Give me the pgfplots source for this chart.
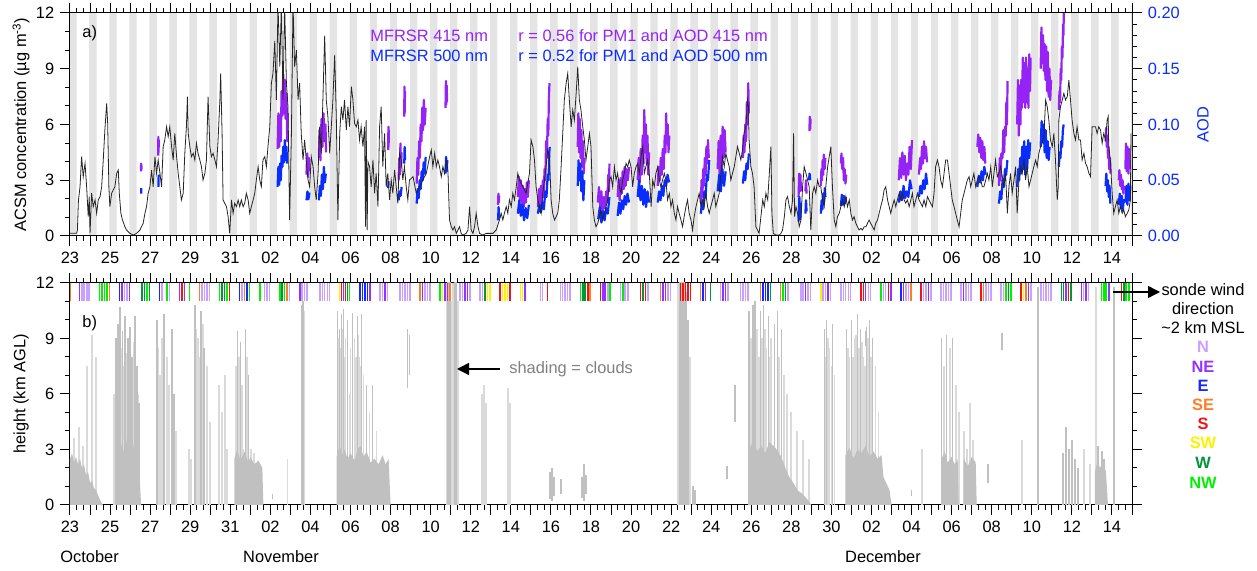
\documentclass[border=0pt]{standalone}
\usepackage{fontspec}
\setmainfont{Liberation Sans}
\usepackage{pgfplots}
\pgfplotsset{compat=1.18}
\usetikzlibrary{arrows.meta}
\definecolor{cP}{RGB}{150,35,245}
\definecolor{cB}{RGB}{10,45,255}
\definecolor{cN}{RGB}{200,160,255}
\definecolor{cNE}{RGB}{150,50,255}
\definecolor{cE}{RGB}{20,40,255}
\definecolor{cSE}{RGB}{255,125,40}
\definecolor{cS}{RGB}{240,20,20}
\definecolor{cSW}{RGB}{255,240,0}
\definecolor{cW}{RGB}{0,150,60}
\definecolor{cNW}{RGB}{0,240,0}
\definecolor{band}{RGB}{228,228,228}
\definecolor{cloud}{RGB}{192,192,192}
\definecolor{cloudl}{RGB}{218,218,218}
\definecolor{txtgray}{RGB}{128,128,128}
\pgfplotsset{
 base/.style={scale only axis, width=531pt, xmin=0, xmax=53, anchor=origin,
   tick align=outside, major tick length=5pt, minor tick length=2.5pt,
   tick style={black, line width=0.5pt}, axis line style={line width=0.5pt},
   xtick={0,...,53}, minor x tick num=2,
   xticklabels={23,,25,,27,,29,,31,,02,,04,,06,,08,,10,,12,,14,,16,,18,,20,,22,,24,,26,,28,,30,,02,,04,,06,,08,,10,,12,,14,,},
   /pgf/number format/assume math mode=true,
   unbounded coords=jump},
 wind/.style={only marks, mark=|, mark size=4.625pt, mark options={line width=0.75pt, #1}},
}
\begin{document}
\fontsize{8.2}{9.8}\selectfont
\begin{tikzpicture}[x=1pt,y=1pt]
% ---------------- top panel, AOD axis (right) ----------------
\begin{axis}[base, at={(35pt,167.5pt)}, height=111.5pt,
  ymin=0, ymax=0.2, hide x axis, axis y line*=right,
  ytick={0,0.05,0.10,0.15,0.20}, minor y tick num=4, scaled y ticks=false,
  yticklabel style={cB, /pgf/number format/.cd, fixed, fixed zerofill, precision=2},
  ylabel={AOD}, every axis y label/.style={at={(axis description cs:1.0669,0.5)}, rotate=90, anchor=center, cB}]
\addplot[const plot, fill=band, draw=none] coordinates {
(0,0.2)(0.33,0)(0.96,0.2)(1.33,0)(1.96,0.2)(2.33,0)(2.96,0.2)(3.33,0)(3.96,0.2)(4.33,0)
(4.96,0.2)(5.33,0)(5.96,0.2)(6.33,0)(6.96,0.2)(7.33,0)(7.96,0.2)(8.33,0)(8.96,0.2)(9.33,0)
(9.96,0.2)(10.33,0)(10.96,0.2)(11.33,0)(11.96,0.2)(12.33,0)(12.96,0.2)(13.33,0)(13.96,0.2)(14.33,0)
(14.96,0.2)(15.33,0)(15.96,0.2)(16.33,0)(16.96,0.2)(17.33,0)(17.96,0.2)(18.33,0)(18.96,0.2)(19.33,0)
(19.96,0.2)(20.33,0)(20.96,0.2)(21.33,0)(21.96,0.2)(22.33,0)(22.96,0.2)(23.33,0)(23.96,0.2)(24.33,0)
(24.96,0.2)(25.33,0)(25.96,0.2)(26.33,0)(26.96,0.2)(27.33,0)(27.96,0.2)(28.33,0)(28.96,0.2)(29.33,0)
(29.96,0.2)(30.33,0)(30.96,0.2)(31.33,0)(31.96,0.2)(32.33,0)(32.96,0.2)(33.33,0)(33.96,0.2)(34.33,0)
(34.96,0.2)(35.33,0)(35.96,0.2)(36.33,0)(36.96,0.2)(37.33,0)(37.96,0.2)(38.33,0)(38.96,0.2)(39.33,0)
(39.96,0.2)(40.33,0)(40.96,0.2)(41.33,0)(41.96,0.2)(42.33,0)(42.96,0.2)(43.33,0)(43.96,0.2)(44.33,0)
(44.96,0.2)(45.33,0)(45.96,0.2)(46.33,0)(46.96,0.2)(47.33,0)(47.96,0.2)(48.33,0)(48.96,0.2)(49.33,0)
(49.96,0.2)(50.33,0)(50.96,0.2)(51.33,0)(51.96,0.2)(52.33,0)(52.96,0.2)(53,0)} \closedcycle;
% AOD 415 nm
\addplot[cP, line width=1.1pt, line join=round] coordinates {
(3.54,0.058)(3.55,0.065)(3.56,0.059)(3.57,0.063)(3.57,nan)
(4.40,0.072)(4.41,0.089)(4.42,0.075)(4.43,0.086)(4.43,nan)
(10.36,0.078)(10.40,0.11)(10.44,0.08)(10.48,0.108)(10.52,0.085)(10.56,0.13)(10.60,0.108)(10.64,0.145)(10.68,0.11)(10.72,0.14)(10.76,0.105)(10.80,0.128)(10.84,0.085)(10.86,0.11)(10.86,nan)
(11.80,0.055)(11.84,0.074)(11.88,0.053)(11.92,0.07)(11.95,0.058)(11.95,nan)
(12.42,0.07)(12.45,0.095)(12.50,0.068)(12.55,0.105)(12.60,0.08)(12.65,0.11)(12.70,0.085)(12.75,0.10)(12.78,0.075)(12.78,nan)
(15.88,0.077)(15.89,0.098)(15.90,0.08)(15.91,0.095)(15.91,nan)
(16.40,0.05)(16.43,0.07)(16.46,0.055)(16.49,0.083)(16.52,0.062)(16.55,0.075)(16.55,nan)
(16.68,0.107)(16.69,0.134)(16.70,0.110)(16.72,0.13)(16.72,nan)
(17.30,0.047)(17.34,0.07)(17.38,0.055)(17.42,0.085)(17.46,0.07)(17.50,0.10)(17.54,0.085)(17.58,0.115)(17.62,0.095)(17.66,0.122)(17.70,0.10)(17.75,0.115)(17.75,nan)
(18.74,0.115)(18.76,0.139)(18.78,0.118)(18.80,0.135)(18.82,0.12)(18.82,nan)
(21.36,0.028)(21.38,0.038)(21.40,0.030)(21.42,0.036)(21.42,nan)
(22.35,0.035)(22.40,0.053)(22.45,0.032)(22.50,0.05)(22.55,0.028)(22.60,0.045)(22.65,0.026)(22.70,0.042)(22.75,0.03)(22.80,0.048)(22.85,0.035)(22.90,0.05)(22.90,nan)
(23.35,0.026)(23.40,0.042)(23.45,0.028)(23.50,0.045)(23.55,0.03)(23.60,0.05)(23.65,0.035)(23.68,0.06)(23.72,0.05)(23.76,0.085)(23.80,0.07)(23.84,0.105)(23.87,0.09)(23.90,0.125)(23.93,0.137)(23.93,nan)
(25.34,0.08)(25.37,0.11)(25.40,0.075)(25.44,0.105)(25.48,0.07)(25.52,0.095)(25.56,0.062)(25.60,0.085)(25.64,0.056)(25.67,0.07)(25.67,nan)
(26.34,0.03)(26.40,0.044)(26.46,0.025)(26.52,0.04)(26.58,0.02)(26.64,0.035)(26.70,0.025)(26.76,0.04)(26.82,0.03)(26.86,0.055)(26.90,0.04)(26.92,0.065)(26.92,nan)
(27.33,0.035)(27.38,0.05)(27.43,0.032)(27.48,0.052)(27.53,0.038)(27.58,0.058)(27.63,0.042)(27.68,0.062)(27.73,0.045)(27.78,0.06)(27.84,0.05)(27.90,0.062)(27.90,nan)
(28.33,0.05)(28.38,0.07)(28.43,0.048)(28.48,0.078)(28.53,0.055)(28.58,0.09)(28.62,0.065)(28.66,0.113)(28.70,0.075)(28.74,0.10)(28.78,0.065)(28.82,0.09)(28.86,0.055)(28.90,0.075)(28.90,nan)
(29.33,0.045)(29.38,0.062)(29.43,0.05)(29.48,0.07)(29.53,0.055)(29.58,0.078)(29.63,0.06)(29.68,0.09)(29.72,0.075)(29.75,0.11)(29.79,0.085)(29.83,0.1)(29.87,0.075)(29.91,0.09)(29.91,nan)
(31.48,0.03)(31.52,0.05)(31.56,0.035)(31.60,0.06)(31.64,0.045)(31.68,0.07)(31.72,0.055)(31.76,0.08)(31.80,0.065)(31.84,0.086)(31.88,0.07)(31.88,nan)
(32.32,0.06)(32.37,0.085)(32.42,0.055)(32.47,0.09)(32.52,0.06)(32.57,0.098)(32.62,0.07)(32.67,0.095)(32.72,0.075)(32.72,nan)
(33.58,0.07)(33.62,0.09)(33.66,0.075)(33.70,0.1)(33.74,0.085)(33.78,0.12)(33.82,0.1)(33.85,0.137)(33.88,0.11)(33.88,nan)
(36.36,0.035)(36.39,0.056)(36.42,0.04)(36.45,0.055)(36.48,0.04)(36.48,nan)
(36.70,0.04)(36.73,0.05)(36.76,0.038)(36.76,nan)
(36.90,0.094)(36.92,0.107)(36.94,0.096)(36.96,0.105)(36.96,nan)
(37.47,0.045)(37.50,0.06)(37.53,0.05)(37.56,0.068)(37.59,0.055)(37.62,0.073)(37.66,0.06)(37.70,0.07)(37.70,nan)
(38.47,0.065)(38.50,0.074)(38.54,0.06)(38.58,0.07)(38.62,0.05)(38.66,0.06)(38.70,0.047)(38.74,0.055)(38.74,nan)
(41.36,0.05)(41.42,0.07)(41.48,0.052)(41.54,0.075)(41.60,0.055)(41.66,0.072)(41.72,0.05)(41.78,0.065)(41.84,0.055)(41.90,0.08)(41.96,0.06)(42.02,0.086)(42.02,nan)
(42.37,0.055)(42.42,0.07)(42.47,0.06)(42.52,0.08)(42.57,0.065)(42.62,0.085)(42.67,0.07)(42.72,0.08)(42.77,0.066)(42.77,nan)
(45.28,0.08)(45.33,0.091)(45.38,0.075)(45.43,0.088)(45.48,0.07)(45.53,0.085)(45.58,0.068)(45.63,0.08)(45.68,0.065)(45.68,nan)
(46.36,0.045)(46.40,0.07)(46.44,0.05)(46.48,0.074)(46.54,0.07)(46.58,0.095)(46.62,0.075)(46.66,0.098)(46.70,0.09)(46.73,0.12)(46.76,0.1)(46.79,0.139)(46.79,nan)
(47.27,0.10)(47.31,0.14)(47.35,0.09)(47.39,0.135)(47.43,0.1)(47.47,0.14)(47.51,0.115)(47.55,0.16)(47.59,0.12)(47.63,0.155)(47.67,0.115)(47.71,0.16)(47.75,0.12)(47.79,0.15)(47.83,0.115)(47.87,0.163)(47.91,0.13)(47.94,0.16)(47.94,nan)
(48.44,0.15)(48.48,0.187)(48.52,0.155)(48.56,0.18)(48.60,0.148)(48.64,0.172)(48.68,0.14)(48.72,0.17)(48.76,0.13)(48.80,0.165)(48.84,0.125)(48.88,0.15)(48.92,0.122)(48.96,0.14)(48.96,nan)
(49.35,0.113)(49.38,0.13)(49.41,0.12)(49.44,0.15)(49.47,0.14)(49.50,0.17)(49.53,0.16)(49.56,0.19)(49.58,0.18)(49.60,0.205)(49.60,nan)
(51.68,0.085)(51.71,0.097)(51.74,0.08)(51.77,0.09)(51.80,0.07)(51.83,0.08)(51.86,0.06)(51.90,0.07)(51.93,0.056)(51.93,nan)
(52.34,0.05)(52.37,0.059)(52.41,0.045)(52.45,0.055)(52.49,0.042)(52.53,0.05)(52.57,0.038)(52.60,0.045)(52.60,nan)
(52.67,0.06)(52.70,0.083)(52.74,0.058)(52.78,0.08)(52.82,0.056)(52.86,0.078)(52.90,0.06)};
% AOD 500 nm
\addplot[cB, line width=1.1pt, line join=round] coordinates {
(3.55,0.038)(3.56,0.041)(3.56,0.043)(3.56,nan)
(4.41,0.044)(4.42,0.048)(4.42,0.052)(4.43,0.055)(4.43,nan)
(10.36,0.044)(10.40,0.062)(10.44,0.046)(10.48,0.065)(10.52,0.05)(10.56,0.072)(10.60,0.062)(10.64,0.08)(10.68,0.066)(10.72,0.086)(10.76,0.068)(10.80,0.08)(10.84,0.065)(10.84,nan)
(11.80,0.032)(11.85,0.040)(11.90,0.033)(11.95,0.039)(11.95,nan)
(12.42,0.032)(12.47,0.045)(12.52,0.036)(12.57,0.055)(12.62,0.042)(12.67,0.062)(12.72,0.048)(12.77,0.056)(12.77,nan)
(15.88,0.043)(15.90,0.049)(15.90,nan)
(16.40,0.032)(16.45,0.040)(16.50,0.036)(16.55,0.044)(16.55,nan)
(16.68,0.065)(16.70,0.080)(16.72,0.068)(16.72,nan)
(17.30,0.029)(17.35,0.042)(17.40,0.034)(17.45,0.05)(17.50,0.042)(17.55,0.058)(17.60,0.05)(17.65,0.066)(17.70,0.056)(17.75,0.071)(17.75,nan)
(18.74,0.056)(18.77,0.071)(18.80,0.058)(18.83,0.068)(18.83,nan)
(21.36,0.014)(21.39,0.026)(21.42,0.016)(21.42,nan)
(22.35,0.02)(22.42,0.032)(22.50,0.018)(22.58,0.028)(22.66,0.014)(22.74,0.025)(22.82,0.016)(22.90,0.028)(22.90,nan)
(23.35,0.02)(23.42,0.028)(23.50,0.021)(23.58,0.03)(23.65,0.024)(23.72,0.04)(23.78,0.035)(23.84,0.055)(23.88,0.05)(23.92,0.075)(23.94,0.08)(23.94,nan)
(25.34,0.045)(25.38,0.068)(25.42,0.05)(25.47,0.065)(25.52,0.04)(25.57,0.058)(25.62,0.032)(25.67,0.05)(25.67,nan)
(26.36,0.015)(26.44,0.026)(26.52,0.012)(26.60,0.022)(26.68,0.014)(26.76,0.025)(26.84,0.02)(26.92,0.035)(26.92,nan)
(27.33,0.018)(27.40,0.03)(27.47,0.02)(27.54,0.032)(27.61,0.024)(27.68,0.036)(27.75,0.028)(27.82,0.038)(27.90,0.03)(27.90,nan)
(28.33,0.035)(28.40,0.05)(28.47,0.032)(28.54,0.045)(28.61,0.028)(28.68,0.042)(28.75,0.026)(28.82,0.04)(28.90,0.03)(28.90,nan)
(29.33,0.03)(29.40,0.04)(29.47,0.032)(29.54,0.045)(29.61,0.036)(29.68,0.05)(29.75,0.045)(29.82,0.055)(29.90,0.048)(29.90,nan)
(31.48,0.02)(31.54,0.03)(31.60,0.024)(31.66,0.04)(31.72,0.035)(31.78,0.055)(31.84,0.05)(31.90,0.068)(31.90,nan)
(32.32,0.04)(32.40,0.055)(32.48,0.04)(32.56,0.06)(32.64,0.045)(32.72,0.058)(32.72,nan)
(33.58,0.047)(33.64,0.058)(33.70,0.05)(33.76,0.065)(33.82,0.06)(33.88,0.074)(33.88,nan)
(36.36,0.013)(36.40,0.035)(36.44,0.015)(36.48,0.03)(36.48,nan)
(36.70,0.02)(36.73,0.032)(36.76,0.022)(36.76,nan)
(36.88,0.05)(36.91,0.056)(36.94,0.05)(36.94,nan)
(37.47,0.02)(37.51,0.032)(37.55,0.024)(37.59,0.038)(37.63,0.03)(37.67,0.043)(37.70,0.035)(37.70,nan)
(38.47,0.027)(38.52,0.037)(38.57,0.028)(38.62,0.036)(38.67,0.029)(38.72,0.035)(38.72,nan)
(41.36,0.03)(41.44,0.04)(41.52,0.032)(41.60,0.045)(41.68,0.034)(41.76,0.04)(41.84,0.035)(41.92,0.05)(42.00,0.042)(42.00,nan)
(42.37,0.035)(42.44,0.045)(42.51,0.038)(42.58,0.05)(42.65,0.042)(42.72,0.056)(42.78,0.046)(42.78,nan)
(45.28,0.044)(45.35,0.054)(45.42,0.048)(45.49,0.058)(45.56,0.05)(45.63,0.062)(45.70,0.055)(45.70,nan)
(46.36,0.029)(46.42,0.04)(46.48,0.033)(46.54,0.05)(46.60,0.044)(46.66,0.06)(46.72,0.055)(46.78,0.068)(46.78,nan)
(47.27,0.044)(47.32,0.06)(47.37,0.05)(47.42,0.07)(47.47,0.056)(47.52,0.08)(47.57,0.06)(47.62,0.085)(47.67,0.055)(47.72,0.08)(47.77,0.06)(47.82,0.086)(47.87,0.07)(47.92,0.084)(47.92,nan)
(48.44,0.08)(48.49,0.103)(48.54,0.085)(48.59,0.1)(48.64,0.075)(48.69,0.095)(48.74,0.07)(48.79,0.085)(48.84,0.068)(48.89,0.08)(48.89,nan)
(49.35,0.062)(49.39,0.075)(49.43,0.07)(49.47,0.085)(49.51,0.08)(49.55,0.095)(49.59,0.1)(49.59,nan)
(51.68,0.045)(51.72,0.056)(51.76,0.04)(51.80,0.05)(51.84,0.035)(51.88,0.045)(51.92,0.029)(51.92,nan)
(52.34,0.028)(52.39,0.038)(52.44,0.025)(52.49,0.036)(52.54,0.023)(52.59,0.033)(52.59,nan)
(52.67,0.03)(52.72,0.045)(52.77,0.028)(52.82,0.047)(52.87,0.032)(52.92,0.045)};
\end{axis}
% ---------------- top panel, ACSM axis (left) ----------------
\begin{axis}[base, at={(35pt,167.5pt)}, height=111.5pt,
  ymin=0, ymax=12, axis y line*=left, ytick={0,3,...,12}, minor y tick num=2,
  ylabel={ACSM concentration (µg m\textsuperscript{-3})},
  every axis y label/.style={at={(axis description cs:-0.0461,0.5)}, rotate=90, anchor=center}]
\addplot[black!85, line width=0.4pt] table {
0.00 0.15
0.17 0.15
0.33 0.15
0.37 0.32
0.42 1.90
0.50 2.65
0.58 4.27
0.66 3.19
0.75 3.91
0.83 2.65
0.91 1.04
0.96 2.12
1.00 0.14
1.08 2.30
1.16 1.58
1.25 1.94
1.33 1.22
1.41 1.94
1.50 2.12
1.58 2.65
1.66 4.09
1.74 5.70
1.83 7.14
1.88 6.06
1.94 2.65
1.99 1.58
2.08 2.30
2.16 2.48
2.24 2.65
2.33 3.37
2.41 3.55
2.46 2.30
2.54 1.22
2.62 0.86
2.74 0.50
2.82 0.32
2.99 0.14
3.16 0.05
3.32 0.14
3.49 0.32
3.57 0.50
3.65 0.68
3.74 1.22
3.82 1.58
3.90 2.30
3.99 2.65
4.07 3.55
4.15 2.65
4.24 4.27
4.32 3.37
4.40 4.09
4.49 3.37
4.57 2.65
4.65 4.81
4.73 5.17
4.82 5.88
4.90 5.35
4.98 5.88
5.07 4.81
5.15 4.09
5.23 5.52
5.32 4.27
5.40 3.37
5.48 2.65
5.56 1.94
5.65 2.30
5.73 4.45
5.81 5.88
5.86 7.50
5.90 5.52
5.98 4.81
6.06 4.27
6.15 4.45
6.23 4.09
6.31 4.99
6.39 4.45
6.48 4.09
6.56 3.73
6.64 3.01
6.73 3.37
6.81 4.09
6.89 7.50
6.98 4.81
7.06 4.27
7.14 4.45
7.23 4.09
7.31 3.73
7.39 5.17
7.48 7.32
7.52 8.75
7.59 5.52
7.64 1.94
7.72 1.76
7.81 1.58
7.89 1.04
7.97 0.14
8.06 1.94
8.14 1.22
8.22 1.76
8.31 1.58
8.39 1.94
8.47 1.58
8.55 1.94
8.64 1.58
8.72 1.76
8.80 2.30
8.89 1.94
8.97 1.22
9.05 1.58
9.14 1.94
9.22 2.30
9.30 3.01
9.39 3.73
9.47 3.01
9.55 2.65
9.63 4.09
9.72 4.27
9.80 3.73
9.88 4.81
9.97 5.88
10.05 8.22
10.13 8.75
10.22 10.5
10.30 7.32
10.38 12.5
10.47 9.11
10.55 12.5
10.63 7.32
10.71 12.5
10.80 8.22
10.88 6.96
10.96 0.86
11.05 5.52
11.13 12.5
11.21 9.11
11.30 10.0
11.38 7.32
11.46 8.22
11.54 5.52
11.63 4.09
11.71 5.17
11.79 4.09
11.88 3.01
11.96 2.65
12.04 4.27
12.13 3.73
12.21 2.65
12.29 1.94
12.38 3.37
12.46 5.88
12.54 4.45
12.62 7.32
12.71 10.78
12.79 7.32
12.87 6.42
12.96 4.45
13.04 5.88
13.12 7.32
13.21 9.74
13.29 6.42
13.37 0.86
13.46 5.52
13.54 6.96
13.62 6.24
13.70 7.32
13.79 5.70
13.87 6.96
13.95 5.88
14.04 8.04
14.12 7.32
14.20 6.06
14.29 5.88
14.37 6.24
14.45 5.17
14.53 5.88
14.62 4.81
14.70 5.88
14.75 0.50
14.78 6.24
14.83 0.32
14.87 4.00
14.95 3.73
15.03 2.65
15.12 4.09
15.20 2.30
15.28 3.37
15.37 1.58
15.45 5.88
15.53 6.96
15.61 3.73
15.70 5.52
15.78 2.65
15.86 3.37
15.95 1.94
16.03 3.01
16.11 2.30
16.20 3.55
16.28 2.65
16.36 1.76
16.45 4.45
16.53 4.09
16.61 3.01
16.69 3.73
16.78 2.65
16.86 1.94
16.94 3.01
17.12 3.19
17.28 2.30
17.45 2.65
17.61 3.01
17.78 3.37
17.95 4.27
18.03 4.63
18.11 3.73
18.20 4.45
18.28 3.73
18.36 4.09
18.44 3.73
18.53 3.19
18.61 3.73
18.69 3.37
18.78 4.09
18.86 3.55
18.94 0.86
19.03 0.50
19.11 0.32
19.19 0.50
19.28 0.14
19.36 0.32
19.44 0.50
19.52 0.14
19.61 0.05
19.77 0.14
19.86 0.32
19.94 1.58
20.02 0.32
20.11 0.14
20.19 0.50
20.27 1.22
20.36 0.50
20.44 0.14
20.60 0.05
20.77 0.14
21.10 0.14
21.27 0.32
21.43 0.86
21.52 1.22
21.60 0.86
21.68 1.22
21.77 1.58
21.85 1.22
21.93 1.94
22.02 1.58
22.10 2.30
22.18 1.94
22.27 2.65
22.35 3.37
22.43 3.01
22.60 2.65
22.76 2.30
22.93 3.37
23.01 5.17
23.10 4.81
23.18 4.09
23.26 2.65
23.35 1.94
23.43 1.58
23.51 1.22
23.59 2.30
23.68 3.01
23.76 3.73
23.84 4.63
23.93 4.27
24.01 1.94
24.09 1.22
24.18 0.86
24.26 1.04
24.34 1.22
24.42 1.94
24.51 3.73
24.59 5.52
24.67 7.32
24.76 8.22
24.84 8.75
24.92 7.32
25.01 5.88
25.09 6.78
25.17 6.24
25.26 7.68
25.34 9.11
25.42 7.32
25.50 6.78
25.59 5.88
25.67 5.17
25.75 4.09
25.84 4.81
25.92 5.52
26.00 4.81
26.09 1.58
26.17 0.86
26.25 0.50
26.34 0.68
26.42 1.04
26.50 1.40
26.58 0.86
26.67 1.22
26.75 1.58
26.83 1.94
26.92 3.01
27.00 3.19
27.08 2.65
27.17 3.73
27.25 3.01
27.33 3.37
27.42 2.65
27.50 2.30
27.58 3.01
27.66 3.37
27.75 3.91
27.83 3.73
27.91 4.09
28.00 3.73
28.08 2.65
28.16 3.37
28.25 3.73
28.33 3.91
28.41 3.37
28.50 4.27
28.58 4.81
28.66 3.37
28.74 3.73
28.83 4.09
28.91 3.37
29.00 1.58
29.08 3.01
29.16 2.65
29.24 3.37
29.33 3.73
29.41 3.01
29.49 2.65
29.57 3.01
29.66 3.37
29.74 3.01
29.82 1.94
29.91 2.30
29.99 1.58
30.07 1.94
30.16 1.22
30.24 0.86
30.32 1.58
30.40 1.22
30.49 0.86
30.57 0.50
30.65 1.04
30.74 1.58
30.82 1.94
30.90 1.22
30.99 0.86
31.07 0.32
31.15 1.04
31.24 1.58
31.32 1.94
31.40 2.30
31.49 1.58
31.57 1.94
31.65 1.58
31.73 2.30
31.82 1.58
31.90 1.22
31.98 1.58
32.07 1.94
32.15 2.30
32.23 1.58
32.32 1.94
32.40 2.30
32.48 3.37
32.56 4.27
32.65 3.73
32.73 4.45
32.81 4.09
32.90 3.73
32.98 3.01
33.06 3.37
33.15 3.73
33.23 4.27
33.31 4.81
33.40 4.45
33.48 4.09
33.56 4.63
33.64 5.52
33.73 5.88
33.81 7.32
33.86 6.96
33.89 5.17
33.98 3.73
34.06 3.37
34.14 2.65
34.23 0.50
34.31 0.32
34.39 0.14
34.57 1.94
34.65 1.58
34.73 2.30
34.82 1.94
34.90 3.37
34.98 4.81
35.03 1.22
35.10 0.14
35.23 0.05
35.40 0.05
35.48 0.14
35.56 0.32
35.65 1.04
35.73 1.94
35.81 2.12
35.90 1.58
35.98 1.22
36.06 1.94
36.11 5.52
36.16 1.04
36.23 1.58
36.31 1.22
36.39 0.50
36.48 0.86
36.56 2.65
36.64 3.73
36.73 3.37
36.81 3.01
36.89 2.65
36.97 0.32
37.06 2.30
37.14 2.65
37.22 2.30
37.31 3.01
37.39 2.65
37.47 2.65
37.56 1.94
37.64 1.58
37.72 2.65
37.81 3.73
37.89 4.27
37.97 4.81
38.05 2.65
38.14 0.86
38.22 0.50
38.30 1.04
38.39 1.22
38.47 1.58
38.55 1.94
38.64 1.58
38.72 2.12
38.80 1.58
38.89 1.94
38.97 1.22
39.05 0.86
39.13 1.04
39.22 0.68
39.30 0.50
39.38 0.32
39.47 0.41
39.55 0.32
39.63 0.50
39.72 0.50
39.80 0.68
39.88 0.86
39.96 0.68
40.05 0.50
40.13 0.32
40.21 0.68
40.30 0.86
40.38 1.22
40.46 1.58
40.55 1.94
40.63 2.48
40.71 2.65
40.80 1.94
40.88 1.58
40.96 1.22
41.04 1.58
41.13 1.94
41.21 1.58
41.29 1.94
41.38 2.30
41.46 1.94
41.54 2.30
41.63 1.94
41.71 1.76
41.79 1.94
41.88 1.58
41.96 1.94
42.04 2.30
42.12 1.58
42.21 1.94
42.29 2.30
42.37 1.94
42.46 1.76
42.54 1.58
42.62 1.94
42.71 1.58
42.79 2.12
42.87 1.94
42.95 1.76
43.04 1.58
43.12 2.30
43.20 3.73
43.29 4.09
43.37 3.73
43.45 3.01
43.54 2.65
43.62 3.37
43.70 4.09
43.79 4.09
43.87 3.37
43.95 2.65
44.03 1.94
44.12 1.58
44.20 1.22
44.28 0.86
44.37 0.50
44.45 1.22
44.53 1.94
44.62 2.30
44.70 2.65
44.78 3.01
44.87 3.19
44.95 2.65
45.03 3.01
45.11 3.37
45.20 2.65
45.28 3.01
45.36 3.19
45.45 3.01
45.53 2.65
45.61 2.65
45.70 3.01
45.78 3.37
45.86 3.01
45.95 3.73
46.03 2.65
46.11 3.37
46.19 4.09
46.28 3.19
46.36 3.37
46.44 3.73
46.53 3.19
46.61 2.65
46.69 3.37
46.78 1.22
46.86 2.65
46.94 3.37
47.02 2.30
47.11 3.01
47.19 3.73
47.27 1.22
47.36 3.01
47.44 3.73
47.52 3.37
47.61 4.09
47.69 3.01
47.77 3.73
47.86 2.65
47.94 3.01
48.02 3.37
48.10 3.73
48.19 4.09
48.27 3.73
48.35 4.45
48.44 4.81
48.52 4.99
48.60 5.35
48.69 7.32
48.77 6.96
48.85 6.24
48.93 5.17
49.02 4.81
49.10 5.52
49.18 4.09
49.27 1.94
49.32 2.65
49.35 6.24
49.43 6.96
49.52 7.32
49.60 7.68
49.68 7.32
49.77 7.50
49.85 8.39
49.93 7.32
50.01 6.24
50.10 5.52
50.18 5.17
50.26 5.88
50.35 5.17
50.43 5.17
50.51 4.09
50.60 4.45
50.68 3.91
50.76 3.73
50.85 3.37
50.93 3.19
51.01 5.88
51.09 5.88
51.18 5.88
51.26 5.52
51.34 5.88
51.43 5.70
51.51 4.99
51.59 5.52
51.68 5.17
51.76 6.24
51.81 6.42
51.84 4.81
51.92 4.09
52.01 2.30
52.09 1.22
52.17 1.58
52.26 1.94
52.34 1.22
52.42 1.58
52.51 1.22
52.59 1.40
52.67 1.04
52.76 1.22
52.84 1.40
52.92 1.94
52.95 5.52
};
\end{axis}
% ---------------- bottom panel ----------------
\begin{axis}[base, at={(35pt,33pt)}, height=111pt,
  ymin=0, ymax=12, ytick={0,3,...,12}, minor y tick num=2,
  xtick pos=both, ytick pos=both, xticklabel pos=lower, yticklabel pos=left,
  ylabel={height (km AGL)},
  every axis y label/.style={at={(axis description cs:-0.0461,0.5)}, rotate=90, anchor=center}]
% faint streaks
\addplot[cloudl, line width=0.9pt] coordinates {
(0.85,0)(0.85,7.5)(0.85,nan)(1.10,0)(1.10,9.2)(1.10,nan)(1.30,0)(1.30,8.0)(1.30,nan)
(0.20,0)(0.20,3.6)(0.20,nan)(0.45,0)(0.45,4.2)(0.45,nan)(0.65,0)(0.65,3.2)(0.65,nan)
(2.20,0)(2.20,6.0)(2.20,nan)(2.35,0)(2.35,8.0)(2.35,nan)(2.55,0)(2.55,8.5)(2.55,nan)(2.70,0)(2.70,7.5)(2.70,nan)
(2.85,0)(2.85,8.2)(2.85,nan)(3.05,0)(3.05,7.0)(3.05,nan)(3.20,0)(3.20,8.8)(3.20,nan)(3.40,0)(3.40,6.0)(3.40,nan)
(4.40,0)(4.40,8.5)(4.40,nan)(4.50,0)(4.50,7.0)(4.50,nan)(4.60,0)(4.60,9.0)(4.60,nan)(4.85,0)(4.85,8.0)(4.85,nan)
(4.95,0)(4.95,6.5)(4.95,nan)(5.30,0)(5.30,4.0)(5.30,nan)
(5.95,0)(5.95,3.0)(5.95,nan)(6.05,0)(6.05,2.5)(6.05,nan)(6.30,0)(6.30,9.5)(6.30,nan)(6.40,0)(6.40,9.0)(6.40,nan)
(6.48,0)(6.48,8.0)(6.48,nan)(6.62,0)(6.62,9.8)(6.62,nan)
(6.85,0)(6.85,7.5)(6.85,nan)(7.00,0)(7.00,4.5)(7.00,nan)(7.45,0)(7.45,6.5)(7.45,nan)
(7.60,0)(7.60,5.0)(7.60,nan)(7.75,0)(7.75,7.0)(7.75,nan)(7.85,0)(7.85,3.0)(7.85,nan)
(8.28,0)(8.28,7.5)(8.28,nan)(8.42,0)(8.42,8.0)(8.42,nan)(8.58,0)(8.58,6.5)(8.58,nan)(8.82,0)(8.82,8.0)(8.82,nan)
(8.65,0)(8.65,3.0)(8.65,nan)(9.05,0)(9.05,3.0)(9.05,nan)(9.20,0)(9.20,2.8)(9.20,nan)
(9.40,0)(9.40,2.0)(9.40,nan)(10.85,0)(10.85,2.5)(10.85,nan)(11.70,0)(11.70,10.5)(11.70,nan)
(13.40,0)(13.40,9.0)(13.40,nan)(13.50,0)(13.50,8.5)(13.50,nan)(13.60,0)(13.60,9.5)(13.60,nan)(13.70,0)(13.70,8.0)(13.70,nan)
(13.75,0)(13.75,9.0)(13.75,nan)(13.95,0)(13.95,6.0)(13.95,nan)(14.20,0)(14.20,9.0)(14.20,nan)(14.00,0)(14.00,8.5)(14.00,nan)
(14.28,0)(14.28,8.0)(14.28,nan)(14.40,0)(14.40,9.2)(14.40,nan)(14.50,0)(14.50,7.5)(14.50,nan)
(14.45,0)(14.45,8.0)(14.45,nan)(14.65,0)(14.65,7.0)(14.65,nan)(14.95,0)(14.95,5.0)(14.95,nan)
(15.30,0)(15.30,4.0)(15.30,nan)(18.80,0)(18.80,12)(18.80,nan)(19.00,0)(19.00,11)(19.00,nan)
(19.10,0)(19.10,12)(19.10,nan)(19.35,0)(19.35,11)(19.35,nan)(20.55,0)(20.55,6.0)(20.55,nan)
(20.65,0)(20.65,6.5)(20.65,nan)(20.75,0)(20.75,5.5)(20.75,nan)(21.85,0)(21.85,6.3)(21.85,nan)
(21.95,0)(21.95,5.5)(21.95,nan)(30.35,0)(30.35,12)(30.35,nan)(30.95,0)(30.95,8)(30.95,nan)
(34.00,0)(34.00,9.0)(34.00,nan)(34.30,0)(34.30,9.5)(34.30,nan)(34.75,0)(34.75,8.5)(34.75,nan)
(34.38,0)(34.38,8.0)(34.38,nan)(34.52,0)(34.52,9.0)(34.52,nan)(34.68,0)(34.68,9.5)(34.68,nan)(34.92,0)(34.92,8.0)(34.92,nan)
(35.00,0)(35.00,9.0)(35.00,nan)(35.40,0)(35.40,8.0)(35.40,nan)(35.65,0)(35.65,7.0)(35.65,nan)
(35.80,0)(35.80,6.0)(35.80,nan)(36.00,0)(36.00,5.0)(36.00,nan)(36.30,0)(36.30,4.0)(36.30,nan)
(36.60,0)(36.60,3.5)(36.60,nan)(36.90,0)(36.90,2.5)(36.90,nan)(37.90,0)(37.90,8.5)(37.90,nan)
(37.70,0)(37.70,8.0)(37.70,nan)(37.82,0)(37.82,9.0)(37.82,nan)(38.00,0)(38.00,7.5)(38.00,nan)
(38.15,0)(38.15,7.0)(38.15,nan)(38.90,0)(38.90,8.0)(38.90,nan)(39.15,0)(39.15,9.0)(39.15,nan)
(38.82,0)(38.82,8.5)(38.82,nan)(39.08,0)(39.08,8.0)(39.08,nan)(39.22,0)(39.22,9.2)(39.22,nan)(39.38,0)(39.38,8.5)(39.38,nan)
(39.52,0)(39.52,8.8)(39.52,nan)(39.68,0)(39.68,7.5)(39.68,nan)(39.82,0)(39.82,9.0)(39.82,nan)(39.98,0)(39.98,8.0)(39.98,nan)
(39.60,0)(39.60,8.0)(39.60,nan)(40.20,0)(40.20,7.5)(40.20,nan)(40.35,0)(40.35,5.0)(40.35,nan)
(42.50,0)(42.50,3.0)(42.50,nan)(43.60,0)(43.60,7.5)(43.60,nan)(43.90,0)(43.90,8.5)(43.90,nan)
(44.20,0)(44.20,6.5)(44.20,nan)(44.35,0)(44.35,5.0)(44.35,nan)(44.60,0)(44.60,4.0)(44.60,nan)
(44.75,0)(44.75,3.0)(44.75,nan)(44.90,0)(44.90,5.5)(44.90,nan)(45.05,0)(45.05,3.5)(45.05,nan)
(47.50,0)(47.50,3.5)(47.50,nan)(50.60,0)(50.60,3.0)(50.60,nan)(50.90,0)(50.90,2.2)(50.90,nan)
(51.21,0)(51.21,11.8)(51.21,nan)};
% low cloud masses
\addplot[fill=cloud, draw=none] coordinates {(0,0)(0,2.5)(0.1,2.8)(0.2,2.3)(0.3,2.6)(0.4,2.2)(0.5,2.5)(0.6,2.0)(0.7,2.2)(0.8,1.6)(0.9,1.8)(1.0,1.2)(1.1,1.3)(1.2,0.9)(1.3,0.8)(1.45,0.4)(1.55,0.15)(1.65,0)} -- cycle;
\addplot[fill=cloud, draw=none] coordinates {(2.25,0)(2.25,2.8)(2.35,3.4)(2.45,2.9)(2.6,3.3)(2.7,2.8)(2.8,3.6)(2.9,2.9)(3.0,3.2)(3.1,2.7)(3.2,3.4)(3.3,2.6)(3.4,2.8)(3.5,1.0)(3.55,0)} -- cycle;
\addplot[fill=cloud, draw=none] coordinates {(8.2,0)(8.2,2.5)(8.35,3.0)(8.5,2.4)(8.7,2.9)(8.9,2.3)(9.0,2.6)(9.2,2.2)(9.4,2.4)(9.6,2.0)(9.65,0)} -- cycle;
\addplot[fill=cloud, draw=none] coordinates {(13.3,0)(13.3,2.6)(13.45,3.2)(13.6,2.7)(13.7,3.0)(13.85,2.5)(14.0,2.8)(14.2,2.4)(14.35,3.0)(14.5,3.2)(14.65,2.6)(14.8,2.9)(15.0,2.3)(15.2,2.5)(15.4,2.2)(15.6,2.7)(15.75,2.2)(15.9,2.5)(16.0,0)} -- cycle;
\addplot[fill=cloud, draw=none] coordinates {(33.9,0)(33.9,3.0)(34.1,3.5)(34.3,2.9)(34.5,3.2)(34.7,2.8)(34.9,3.4)(35.2,3.1)(35.5,2.6)(35.7,2.0)(35.9,1.5)(36.1,1.2)(36.3,0.8)(36.55,0.6)(36.8,0.3)(37,0)} -- cycle;
\addplot[fill=cloud, draw=none] coordinates {(38.7,0)(38.7,2.7)(38.9,3.1)(39.1,2.5)(39.3,3.0)(39.5,2.8)(39.7,3.2)(39.9,2.6)(40.1,2.9)(40.3,2.5)(40.5,2.7)(40.6,1.5)(40.9,0.8)(41,0)} -- cycle;
\addplot[fill=cloud, draw=none] coordinates {(43.5,0)(43.5,2.5)(43.65,2.9)(43.8,2.3)(44.0,2.6)(44.15,2.2)(44.3,2.5)(44.35,0)} -- cycle;
\addplot[fill=cloud, draw=none] coordinates {(44.6,0)(44.6,2.5)(44.8,2.1)(45.0,2.6)(45.2,2.3)(45.25,0)} -- cycle;
\addplot[fill=cloud, draw=none] coordinates {(51.15,0)(51.15,1.8)(51.3,2.4)(51.4,2.0)(51.55,2.3)(51.7,1.8)(51.8,0)} -- cycle;
% dense streaks
\addplot[cloud, line width=0.8pt] coordinates {
(2.30,0)(2.30,9.0)(2.30,nan)(2.40,0)(2.40,9.8)(2.40,nan)(2.50,0)(2.50,10.7)(2.50,nan)
(2.62,0)(2.62,9.4)(2.62,nan)(2.75,0)(2.75,10.2)(2.75,nan)(2.90,0)(2.90,9.0)(2.90,nan)
(3.00,0)(3.00,9.6)(3.00,nan)(3.10,0)(3.10,8.0)(3.10,nan)(3.25,0)(3.25,10.2)(3.25,nan)
(3.35,0)(3.35,7.5)(3.35,nan)(3.45,0)(3.45,5.5)(3.45,nan)
(4.35,0)(4.35,10.0)(4.35,nan)(4.70,0)(4.70,10.3)(4.70,nan)(5.10,0)(5.10,9.5)(5.10,nan)(5.20,0)(5.20,6.0)(5.20,nan)
(6.25,0)(6.25,10.8)(6.25,nan)(6.55,0)(6.55,10.5)(6.55,nan)(6.70,0)(6.70,8.5)(6.70,nan)
(8.35,0)(8.35,9.4)(8.35,nan)(8.50,0)(8.50,8.8)(8.50,nan)(8.75,0)(8.75,9.5)(8.75,nan)(8.90,0)(8.90,7.0)(8.90,nan)
(11.55,0)(11.55,10.8)(11.55,nan)(11.62,0)(11.62,11.0)(11.62,nan)
(13.35,0)(13.35,10.5)(13.35,nan)(13.45,0)(13.45,9.5)(13.45,nan)(13.55,0)(13.55,10.3)(13.55,nan)
(13.65,0)(13.65,10.6)(13.65,nan)(13.85,0)(13.85,10.0)(13.85,nan)(14.10,0)(14.10,10.4)(14.10,nan)
(14.35,0)(14.35,10.2)(14.35,nan)(14.55,0)(14.55,10.3)(14.55,nan)(14.80,0)(14.80,6.5)(14.80,nan)(15.10,0)(15.10,6.5)(15.10,nan)
(18.85,0)(18.85,12.2)(18.85,nan)(18.90,0)(18.90,12.2)(18.90,nan)(18.95,0)(18.95,12.2)(18.95,nan)
(19.20,0)(19.20,12.2)(19.20,nan)(19.25,0)(19.25,12.2)(19.25,nan)
(30.45,0)(30.45,12.2)(30.45,nan)(30.50,0)(30.50,12.2)(30.50,nan)(30.55,0)(30.55,12.2)(30.55,nan)
(30.65,0)(30.65,12.2)(30.65,nan)(30.75,0)(30.75,11.5)(30.75,nan)(30.85,0)(30.85,10)(30.85,nan)
(33.90,0)(33.90,10.5)(33.90,nan)(34.10,0)(34.10,10.8)(34.10,nan)(34.20,0)(34.20,11.0)(34.20,nan)
(34.45,0)(34.45,10.5)(34.45,nan)(34.60,0)(34.60,10.8)(34.60,nan)(34.85,0)(34.85,10.2)(34.85,nan)
(35.15,0)(35.15,9.8)(35.15,nan)(35.30,0)(35.30,10.5)(35.30,nan)(35.50,0)(35.50,9.5)(35.50,nan)
(37.65,0)(37.65,9.5)(37.65,nan)(37.75,0)(37.75,10.0)(37.75,nan)(38.05,0)(38.05,9.8)(38.05,nan)
(38.75,0)(38.75,9.5)(38.75,nan)(39.00,0)(39.00,10.0)(39.00,nan)(39.30,0)(39.30,10.3)(39.30,nan)
(39.45,0)(39.45,9.5)(39.45,nan)(39.75,0)(39.75,9.6)(39.75,nan)(39.90,0)(39.90,10.0)(39.90,nan)(40.05,0)(40.05,9.0)(40.05,nan)
(43.50,0)(43.50,9.0)(43.50,nan)(43.75,0)(43.75,9.2)(43.75,nan)(44.05,0)(44.05,9.0)(44.05,nan)
(48.32,0)(48.32,11.8)(48.32,nan)(52.09,0)(52.09,11.8)(52.09,nan)
(49.55,0)(49.55,2.8)(49.55,nan)(49.70,0)(49.70,4.2)(49.70,nan)(49.85,0)(49.85,3.0)(49.85,nan)
(50.00,0)(50.00,3.5)(50.00,nan)(50.15,0)(50.15,2.5)(50.15,nan)(50.30,0)(50.30,2.0)(50.30,nan)
(51.30,0)(51.30,3.2)(51.30,nan)(51.50,0)(51.50,2.9)(51.50,nan)(51.60,0)(51.60,2.5)(51.60,nan)
(16.85,6.3)(16.85,9.5)(16.85,nan)(16.95,7.0)(16.95,9.2)(16.95,nan)
(23.95,0.3)(23.95,1.8)(23.95,nan)(24.05,0.2)(24.05,2.0)(24.05,nan)(24.15,0.5)(24.15,1.5)(24.15,nan)(24.5,0.6)(24.5,1.4)(24.5,nan)
(25.55,0.4)(25.55,1.5)(25.55,nan)(25.65,0.2)(25.65,2.2)(25.65,nan)(25.75,0.6)(25.75,1.6)(25.75,nan)
(33.2,4.5)(33.2,6.5)(33.2,nan)(39.7,8.6)(39.7,9.4)(39.7,nan)(46.5,8.4)(46.5,9.3)(46.5,nan)
(45.8,1.2)(45.8,2.2)(45.8,nan)(10.1,0.3)(10.1,0.6)(10.1,nan)(42.0,0.5)(42.0,0.8)(42.0,nan)
(32.8,1.4)(32.8,2.1)(32.8,nan)(31.1,0)(31.1,1.0)(31.1,nan)(31.2,0)(31.2,0.8)};
% sonde wind direction
\addplot[wind=cN] coordinates {(0.59,11.5)(0.71,11.5)(0.84,11.5)(0.96,11.5)(2.71,11.5)(2.84,11.5)(4.59,11.5)(4.96,11.5)(6.59,11.5)(6.71,11.5)(6.84,11.5)(6.96,11.5)(8.59,11.5)(9.71,11.5)(9.84,11.5)(9.96,11.5)(10.96,11.5)(11.59,11.5)(11.71,11.5)(11.84,11.5)(12.47,11.5)(12.59,11.5)(12.71,11.5)(12.84,11.5)(12.96,11.5)(15.47,11.5)(15.59,11.5)(15.84,11.5)(16.47,11.5)(16.59,11.5)(16.71,11.5)(16.84,11.5)(16.96,11.5)(17.71,11.5)(17.84,11.5)(17.96,11.5)(19.47,11.5)(19.59,11.5)(19.96,11.5)(20.47,11.5)(20.59,11.5)(23.47,11.5)(23.59,11.5)(24.47,11.5)(24.59,11.5)(24.71,11.5)(24.84,11.5)(24.96,11.5)(26.84,11.5)(27.47,11.5)(27.71,11.5)(27.84,11.5)(28.84,11.5)(29.84,11.5)(29.96,11.5)(32.47,11.5)(32.84,11.5)(33.47,11.5)(33.59,11.5)(33.71,11.5)(33.84,11.5)(35.84,11.5)(36.47,11.5)(36.59,11.5)(36.84,11.5)(36.96,11.5)(37.59,11.5)(37.71,11.5)(37.96,11.5)(38.47,11.5)(38.59,11.5)(38.71,11.5)(38.84,11.5)(38.96,11.5)(39.84,11.5)(39.96,11.5)(40.59,11.5)(40.71,11.5)(41.71,11.5)(41.84,11.5)(42.59,11.5)(42.71,11.5)(42.96,11.5)(43.47,11.5)(43.59,11.5)(43.71,11.5)(43.84,11.5)(43.96,11.5)(44.47,11.5)(44.71,11.5)(44.84,11.5)(44.96,11.5)(45.71,11.5)(45.84,11.5)(45.96,11.5)(46.47,11.5)(46.59,11.5)(47.96,11.5)(48.47,11.5)(48.59,11.5)(48.71,11.5)(48.84,11.5)(48.96,11.5)(50.59,11.5)(50.84,11.5)};
\addplot[wind=cNE] coordinates {(0.47,11.5)(2.59,11.5)(2.96,11.5)(5.47,11.5)(5.71,11.5)(11.47,11.5)(13.65,11.5)(14.96,11.5)(15.71,11.5)(17.59,11.5)(18.71,11.5)(18.84,11.5)(19.71,11.5)(19.84,11.5)(22.71,11.5)(26.59,11.5)(26.71,11.5)(29.59,11.5)(29.71,11.5)(31.71,11.5)(32.59,11.5)(32.71,11.5)(36.71,11.5)(37.84,11.5)(39.71,11.5)(40.96,11.5)(41.59,11.5)(42.84,11.5)(44.59,11.5)(47.84,11.5)(49.71,11.5)(50.47,11.5)(50.71,11.5)(51.84,11.5)};
\addplot[wind=cE] coordinates {(2.47,11.5)(4.47,11.5)(8.47,11.5)(8.84,11.5)(14.47,11.5)(14.59,11.5)(14.71,11.5)(14.84,11.5)(31.59,11.5)(34.59,11.5)(34.71,11.5)(34.84,11.5)(41.47,11.5)};
\addplot[wind=cSE] coordinates {(0.02,11.5)(1.96,11.5)(6.47,11.5)(8.71,11.5)(10.84,11.5)(17.47,11.5)(18.96,11.5)(25.96,11.5)(29.47,11.5)(31.47,11.5)(34.47,11.5)(35.47,11.5)(41.96,11.5)(45.59,11.5)(47.71,11.5)};
\addplot[wind=cS] coordinates {(5.59,11.5)(7.96,11.5)(13.55,11.5)(13.75,11.5)(21.47,11.5)(21.96,11.5)(23.84,11.5)(25.84,11.5)(26.47,11.5)(28.47,11.5)(28.71,11.5)(30.47,11.5)(30.59,11.5)(30.71,11.5)(30.84,11.5)(30.96,11.5)(39.47,11.5)(39.59,11.5)(40.84,11.5)(42.47,11.5)(45.47,11.5)(47.47,11.5)(49.84,11.5)(52.47,11.5)};
\addplot[wind=cSW] coordinates {(13.45,11.5)(18.59,11.5)(20.84,11.5)(20.96,11.5)(21.59,11.5)(21.71,11.5)(21.84,11.5)(22.47,11.5)(22.59,11.5)(37.47,11.5)(47.59,11.5)};
\addplot[wind=cW] coordinates {(3.59,11.5)(3.71,11.5)(3.96,11.5)(7.59,11.5)(7.71,11.5)(10.59,11.5)(13.85,11.5)(20.71,11.5)(25.59,11.5)(25.71,11.5)(28.59,11.5)(31.96,11.5)(34.96,11.5)(35.71,11.5)(46.84,11.5)(49.47,11.5)(49.59,11.5)(49.96,11.5)(52.59,11.5)};
\addplot[wind=cNW] coordinates {(1.47,11.5)(1.59,11.5)(1.71,11.5)(1.84,11.5)(3.84,11.5)(4.84,11.5)(5.96,11.5)(7.47,11.5)(7.84,11.5)(8.96,11.5)(9.47,11.5)(10.47,11.5)(10.71,11.5)(13.95,11.5)(18.47,11.5)(25.47,11.5)(26.96,11.5)(27.59,11.5)(35.59,11.5)(40.47,11.5)(46.71,11.5)(46.96,11.5)(51.47,11.5)(51.59,11.5)(51.71,11.5)(52.71,11.5)(52.84,11.5)};
\end{axis}
% ---------------- annotations ----------------
\node[anchor=west, inner sep=0] at (41,269) {a)};
\node[anchor=west, inner sep=0, text=cP] at (185,267.5) {MFRSR 415 nm};
\node[anchor=west, inner sep=0, text=cB] at (185,257.5) {MFRSR 500 nm};
\node[anchor=west, inner sep=0, text=cP] at (259,267.5) {r = 0.56 for PM1 and AOD 415 nm};
\node[anchor=west, inner sep=0, text=cB] at (259,257.5) {r = 0.52 for PM1 and AOD 500 nm};
\node[anchor=west, inner sep=0] at (41,124) {b)};
\draw[-{Triangle[length=6pt,width=6pt]}, line width=0.7pt] (250,101) -- (228.5,101);
\node[anchor=west, inner sep=0, text=txtgray] at (254.5,101) {shading = clouds};
\draw[-{Triangle[length=6pt,width=6pt]}, line width=0.7pt] (556.5,139.5) -- (580,139.5);
\node[inner sep=0] at (601.5,140.5) {sonde wind};
\node[inner sep=0] at (601.5,131) {direction};
\node[inner sep=0] at (601.5,121.5) {\textasciitilde 2 km MSL};
\node[inner sep=0, text=cN] at (601.5,112) {\bfseries N};
\node[inner sep=0, text=cNE] at (601.5,102) {\bfseries NE};
\node[inner sep=0, text=cE] at (601.5,92.5) {\bfseries E};
\node[inner sep=0, text=cSE] at (601.5,83) {\bfseries SE};
\node[inner sep=0, text=cS] at (601.5,73.5) {\bfseries S};
\node[inner sep=0, text=cSW] at (601.5,64) {\bfseries SW};
\node[inner sep=0, text=cW] at (601.5,54) {\bfseries W};
\node[inner sep=0, text=cNW] at (601.5,44) {\bfseries NW};
\node[anchor=west, inner sep=0] at (30,7) {October};
\node[inner sep=0] at (140.5,7) {November};
\node[inner sep=0] at (441.5,7) {December};
\pgfresetboundingbox
\useasboundingbox (0,0) rectangle (628.5,285.5);
\end{tikzpicture}
\end{document}
